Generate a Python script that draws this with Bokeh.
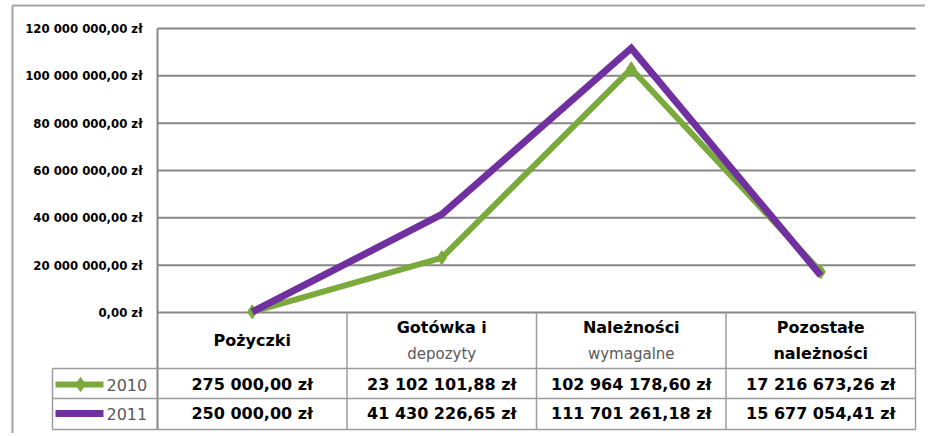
from bokeh.plotting import figure
from bokeh.models import Range1d
from bokeh.embed import file_html
from bokeh.resources import INLINE
from bokeh.core.properties import value

# ---------------- data ----------------
categories = ["Pożyczki", "Gotówka i depozyty", "Należności wymagalne", "Pozostałe należności"]
header_line1 = ["Pożyczki", "Gotówka i", "Należności", "Pozostałe"]
header_line2 = ["", "depozyty", "wymagalne", "należności"]
series_names = ["2010", "2011"]
values_2010 = [275000.00, 23102101.88, 102964178.60, 17216673.26]
values_2011 = [250000.00, 41430226.65, 111701261.18, 15677054.41]
y_ticks = [0, 20000000, 40000000, 60000000, 80000000, 100000000, 120000000]


def pln(v):
    s = f"{v:,.2f}"
    return s.replace(",", " ").replace(".", ",") + " zł"


# ---------------- layout (page pixels) ----------------
W, H = 925, 433
PAGE_L, PAGE_T = 0, 0
PLOT_L, PLOT_R = 157, 915
Y_TOP_PX, Y_ZERO_PX = 28, 312
HEAD_B, ROW1_B, ROW2_B = 368, 398, 429
LEG_L = 52

n = len(categories)
upx_x = n / (PLOT_R - PLOT_L)
x_start = -0.5 - (PLOT_L - PAGE_L) * upx_x
x_end = n - 0.5 + (PAGE_L + W - PLOT_R) * upx_x
ymax = y_ticks[-1]
upx_y = ymax / (Y_ZERO_PX - Y_TOP_PX)
y_start = -(PAGE_T + H - Y_ZERO_PX) * upx_y
y_end = ymax + (Y_TOP_PX - PAGE_T) * upx_y

p = figure(width=W, height=H, x_range=Range1d(x_start, x_end), y_range=Range1d(y_start, y_end),
           output_backend="svg", toolbar_location=None, min_border=0,
           min_border_left=0, min_border_right=0, min_border_top=0, min_border_bottom=0)
p.axis.visible = False
p.grid.visible = False
p.outline_line_color = None
p.background_fill_color = "white"
p.border_fill_color = "white"
p.extra_x_ranges = {"px": Range1d(PAGE_L, PAGE_L + W)}
p.extra_y_ranges = {"px": Range1d(PAGE_T + H, PAGE_T)}

FONT = value("DejaVu Sans")
AXFONT = value("'DejaVu Sans Condensed', 'DejaVu Sans'")
GRID = "#878787"
TAB = "#9c9c9c"
GREEN = "#7aa93c"
PURPLE = "#7030a0"

# outer frame (top & left visible)
p.segment(x0=[12, 12], y0=[5, 5], x1=[W, 12], y1=[5, H], x_range_name="px", y_range_name="px",
          line_color="#a3a3a3", line_width=2)

# horizontal gridlines
p.segment(x0=[-0.5] * len(y_ticks), x1=[n - 0.5] * len(y_ticks), y0=y_ticks, y1=y_ticks,
          line_color=GRID, line_width=2)

# y axis line + table
p.segment(x0=[PLOT_L], y0=[Y_TOP_PX], x1=[PLOT_L], y1=[ROW2_B], x_range_name="px", y_range_name="px",
          line_color=GRID, line_width=2)
p.segment(x0=[LEG_L] * 3 + [LEG_L], y0=[HEAD_B, ROW1_B, ROW2_B, HEAD_B],
          x1=[PLOT_R] * 3 + [LEG_L], y1=[HEAD_B, ROW1_B, ROW2_B, ROW2_B],
          x_range_name="px", y_range_name="px", line_color=TAB, line_width=1.5)
bounds = [i + 0.5 for i in range(n)]
p.segment(x0=bounds, x1=bounds, y0=[Y_ZERO_PX] * n, y1=[ROW2_B] * n, y_range_name="px",
          line_color=TAB, line_width=1.5)

# series
xs = list(range(n))
p.line(xs, values_2010, line_color=GREEN, line_width=6, line_join="miter")
p.scatter(xs, values_2010, marker="diamond", size=14, fill_color=GREEN, line_color=GREEN)
p.line(xs, values_2011, line_color=PURPLE, line_width=7, line_join="miter")

# y tick labels
p.text(x=[-0.5] * len(y_ticks), y=y_ticks, text=[pln(t) for t in y_ticks], x_offset=-15,
       text_align="right", text_baseline="middle", text_font=AXFONT, text_font_style="bold",
       text_font_size="13px", text_color="black")

# header
single = [i for i in range(n) if header_line2[i] == ""]
double = [i for i in range(n) if header_line2[i] != ""]
p.text(x=single, y=[340] * len(single), text=[header_line1[i] for i in single], y_range_name="px",
       text_align="center", text_baseline="middle", text_font=FONT, text_font_style="bold",
       text_font_size="16px", text_color="black")
p.text(x=double, y=[327] * len(double), text=[header_line1[i] for i in double], y_range_name="px",
       text_align="center", text_baseline="middle", text_font=FONT, text_font_style="bold",
       text_font_size="16px", text_color="black")
gray2 = [i for i in double if i < n - 1]
bold2 = [i for i in double if i == n - 1]
p.text(x=gray2, y=[353] * len(gray2), text=[header_line2[i] for i in gray2], y_range_name="px",
       text_align="center", text_baseline="middle", text_font=FONT,
       text_font_size="15px", text_color="#595959")
p.text(x=bold2, y=[353] * len(bold2), text=[header_line2[i] for i in bold2], y_range_name="px",
       text_align="center", text_baseline="middle", text_font=FONT, text_font_style="bold",
       text_font_size="16px", text_color="black")

# values rows
for vals, yrow in ((values_2010, 384), (values_2011, 413)):
    p.text(x=xs, y=[yrow] * n, text=[pln(v) for v in vals], y_range_name="px",
           text_align="center", text_baseline="middle", text_font=FONT, text_font_style="bold",
           text_font_size="16px", text_color="black")

# legend column
p.line([55, 103], [384, 384], x_range_name="px", y_range_name="px", line_color=GREEN, line_width=6)
p.scatter([80], [384], x_range_name="px", y_range_name="px", marker="diamond", size=14,
          fill_color=GREEN, line_color=GREEN)
p.line([55, 103], [413, 413], x_range_name="px", y_range_name="px", line_color=PURPLE, line_width=7)
p.text(x=[106, 106], y=[384, 413], text=series_names, x_range_name="px", y_range_name="px",
       text_align="left", text_baseline="middle", text_font=FONT, text_font_size="16px",
       text_color="#595959")

open("out.html", "w").write(file_html(p, INLINE))
